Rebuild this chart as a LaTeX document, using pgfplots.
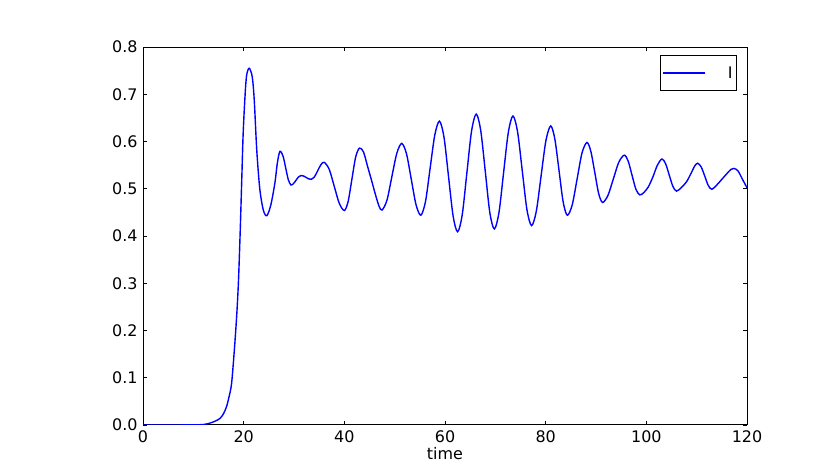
\documentclass[border=0pt]{standalone}
\usepackage{fontspec}
\setmainfont{DejaVu Sans}
\usepackage{pgfplots}
\pgfplotsset{compat=1.18}
\begin{document}
\begin{tikzpicture}
\useasboundingbox (0,0) rectangle (830bp,473bp);
\begin{axis}[
  at={(143bp,48bp)}, anchor=south west,
  scale only axis, width=604bp, height=378bp,
  xmin=0, xmax=120, ymin=0, ymax=0.8,
  xtick={0,20,...,120},
  ytick={0,0.1,...,0.8},
  yticklabel style={/pgf/number format/fixed, /pgf/number format/precision=1, /pgf/number format/fixed zerofill},
  /pgf/number format/assume math mode=true,
  tick align=inside,
  major tick length=4bp,
  tick style={black, line width=0.6bp},
  axis line style={black, line width=1bp},
  ticklabel style={font=\fontsize{16}{19}\selectfont},
  xticklabel style={yshift=-2bp},
  yticklabel style={xshift=-2bp},
  xlabel={time},
  xlabel style={font=\fontsize{16}{19}\selectfont, yshift=2bp},
  legend style={at={(1,1)}, anchor=north east, xshift=-10bp, yshift=-8bp,
    draw=black, line width=1bp, font=\fontsize{16}{19}\selectfont,
    inner xsep=2bp, inner ysep=9bp,
    /tikz/every odd column/.append style={column sep=20bp}},
  legend cell align=left,
  legend image code/.code={\path (0bp,0bp) -- (12bp,0bp); \draw[#1, line width=1.4bp] (12bp,0bp) -- (42bp,0bp);},
]
\addplot[color={rgb,255:red,0;green,0;blue,255}, line width=1.4bp, smooth, tension=0.5] coordinates {
(0,0) (5,0) (10,0.0003) (12,0.001) (13.3,0.004) (14.3,0.008) (15.3,0.014) (16.0,0.024) (16.6,0.039)
(17.1,0.06) (17.6,0.088) (18.15,0.159) (18.6,0.229) (18.95,0.30) (19.3,0.406) (19.6,0.512)
(19.9,0.617) (20.3,0.702) (20.6,0.741) (21.1,0.755)
(21.7,0.737) (22.1,0.688) (22.6,0.582) (23.2,0.500) (23.9,0.455) (24.6,0.443)
(25.4,0.466) (26.2,0.512) (26.7,0.555) (27.2,0.579)
(27.825,0.569) (28.35,0.544) (28.875,0.519) (29.4,0.508)
(29.9,0.511) (30.4,0.518) (30.9,0.525) (31.4,0.528)
(31.9,0.527) (32.4,0.524) (32.9,0.521) (33.4,0.52)
(34.05,0.525) (34.7,0.538) (35.35,0.551) (36.0,0.556)
(37.0,0.541) (38.0,0.505) (39.0,0.469) (40.0,0.454)
(40.75,0.473) (41.5,0.520) (42.25,0.567) (43.0,0.586)
(43.8,0.578) (44.6,0.548) (45.4,0.518) (46.2,0.487) (46.9,0.463) (47.5,0.455)
(48.475,0.476) (49.45,0.526) (50.425,0.575) (51.4,0.596)
(52.35,0.574) (53.3,0.520) (54.25,0.466) (55.2,0.444)
(56.125,0.473) (57.05,0.544) (57.975,0.614) (58.9,0.643)
(59.8,0.609) (60.7,0.526) (61.6,0.443) (62.5,0.409)
(63.425,0.445) (64.35,0.534) (65.275,0.622) (66.2,0.658)
(67.1,0.623) (68.0,0.537) (68.9,0.450) (69.8,0.415)
(70.725,0.450) (71.65,0.535) (72.575,0.619) (73.5,0.654)
(74.425,0.620) (75.35,0.538) (76.275,0.456) (77.2,0.422)
(78.15,0.453) (79.1,0.528) (80.05,0.602) (81.0,0.633)
(81.825,0.605) (82.65,0.539) (83.475,0.472) (84.3,0.444)
(85.275,0.466) (86.25,0.521) (87.225,0.576) (88.2,0.598)
(88.975,0.579) (89.75,0.535) (90.525,0.490) (91.3,0.471)
(92.375,0.486) (93.45,0.521) (94.525,0.556) (95.6,0.571)
(96.375,0.559) (97.15,0.529) (97.925,0.499) (98.7,0.487)
(99.5,0.492) (100.4,0.504) (101.3,0.525) (102.2,0.550) (103.1,0.563)
(103.825,0.553) (104.55,0.529) (105.275,0.505) (106.0,0.495)
(107,0.503) (108,0.515) (108.9,0.533) (109.6,0.548) (110.2,0.554)
(110.9,0.546) (111.6,0.527) (112.3,0.507) (113.0,0.499)
(114,0.508) (115,0.52) (116,0.532) (116.8,0.541) (117.4,0.543)
(118.2,0.538) (119.1,0.520) (120,0.502)
};
\addlegendentry{I}
\end{axis}
\end{tikzpicture}
\end{document}
